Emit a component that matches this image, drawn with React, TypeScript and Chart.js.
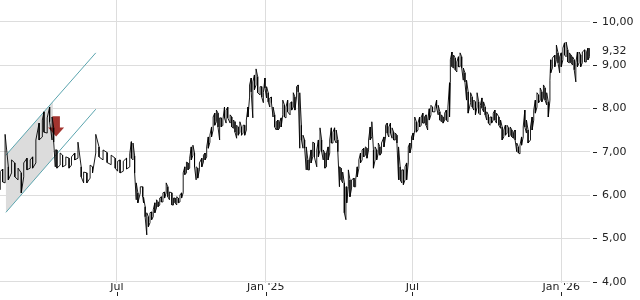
import React, { useEffect, useRef } from 'react';
import { Chart, registerables } from 'chart.js';

Chart.register(...registerables);

// Days counted from 7 Feb 2024
const sampleDay = [
  1, 4, 7, 11, 15, 19, 23, 27, 30, 34,
  38, 41, 45, 49, 53, 55, 59, 62, 65, 67,
  69, 71, 75, 78, 82, 86, 89, 93, 97, 101,
  104, 108, 112, 115, 119, 123, 128, 133, 138, 143,
  146, 149, 153, 157, 161, 163, 165, 167, 169, 171,
  174, 177, 178, 180, 182, 184, 186, 188, 190, 192,
  194, 196, 198, 200, 202, 204, 206, 208, 210, 213,
  215, 217, 219, 221, 223, 225, 227, 229, 231, 233,
  235, 237, 239, 241, 243, 245, 247, 250, 252, 254,
  256, 258, 260, 262, 264, 266, 268, 270, 272, 274,
  276, 278, 280, 282, 285, 287, 289, 291, 293, 295,
  297, 299, 301, 303, 305, 307, 309, 311, 313, 315,
  317, 319, 322, 324, 326, 328, 330, 332, 334, 336,
  338, 340, 342, 344, 346, 348, 350, 352, 354, 356,
  359, 361, 363, 365, 367, 369, 371, 373, 375, 377,
  379, 381, 383, 385, 387, 389, 392, 394, 396, 398,
  400, 402, 404, 406, 408, 410, 412, 414, 416, 418,
  420, 422, 424, 426, 428, 429, 431, 433, 435, 438,
  440, 442, 444, 446, 448, 450, 452, 454, 456, 458,
  460, 462, 464, 466, 468, 470, 472, 475, 477, 479,
  481, 483, 485, 487, 489, 491, 493, 495, 497, 499,
  501, 503, 505, 507, 509, 511, 513, 515, 517, 519,
  521, 523, 525, 527, 529, 531, 533, 535, 538, 540,
  542, 544, 546, 548, 550, 552, 554, 556, 557, 559,
  561, 563, 565, 567, 569, 571, 573, 575, 577, 579,
  582, 584, 586, 588, 590, 592, 594, 596, 598, 600,
  602, 604, 606, 608, 610, 612, 614, 617, 619, 621,
  623, 625, 627, 629, 631, 633, 635, 637, 639, 641,
  643, 645, 647, 649, 651, 653, 656, 658, 660, 662,
  664, 666, 668, 670, 672, 674, 676, 678, 680, 681,
  683, 686, 688, 690, 692, 694, 696, 698, 700, 702,
  704, 706, 708, 710, 712, 714, 716, 718, 720, 723,
  725, 727, 729,
];

const lowValues = [
  6.12, 6.30, 6.28, 6.35, 6.51, 6.42, 6.35, 6.05, 6.42, 6.58,
  6.62, 6.62, 6.74, 7.27, 7.34, 7.45, 7.43, 7.69, 7.27, 7.22,
  6.65, 6.62, 6.69, 6.65, 6.69, 6.62, 6.69, 6.81, 6.85, 6.42,
  6.28, 6.28, 6.39, 6.51, 6.97, 6.88, 6.81, 6.75, 6.70, 6.62,
  6.55, 6.51, 6.55, 6.60, 6.65, 6.85, 6.81, 6.51, 5.89, 5.82,
  6.05, 5.96, 5.82, 5.50, 5.08, 5.27, 5.36, 5.43, 5.50, 5.59,
  5.70, 5.73, 5.77, 5.84, 5.84, 5.93, 6.05, 5.96, 5.89, 5.77,
  5.77, 5.82, 5.77, 5.82, 5.84, 5.93, 6.05, 6.47, 6.51, 6.58,
  6.62, 6.81, 6.92, 6.65, 6.35, 6.39, 6.58, 6.65, 6.76, 6.81,
  6.88, 7.08, 7.22, 7.34, 7.50, 7.61, 7.69, 7.57, 7.27, 7.57,
  7.61, 7.78, 7.66, 7.78, 7.66, 7.57, 7.54, 7.45, 7.31, 7.38,
  7.45, 7.38, 7.43, 7.38, 7.50, 7.80, 8.26, 8.38, 7.78, 8.43,
  8.54, 8.36, 8.31, 8.26, 8.13, 8.47, 8.24, 8.15, 8.03, 8.13,
  7.80, 7.57, 7.50, 7.50, 7.54, 7.57, 7.85, 7.80, 7.78, 7.92,
  7.85, 7.96, 8.03, 7.96, 8.26, 8.38, 7.08, 7.27, 7.08, 7.08,
  6.58, 6.58, 6.58, 6.74, 6.88, 6.88, 6.65, 6.88, 7.04, 7.00,
  6.81, 6.62, 6.65, 6.81, 6.97, 7.20, 7.20, 7.27, 7.20, 7.00,
  6.19, 6.35, 6.28, 5.59, 5.43, 5.82, 6.19, 5.96, 6.16, 6.19,
  6.19, 6.42, 6.62, 6.74, 6.81, 6.88, 6.92, 6.85, 7.04, 7.27,
  7.34, 6.62, 6.81, 6.81, 6.97, 6.92, 6.97, 7.11, 7.34, 7.43,
  7.34, 7.43, 7.31, 7.27, 7.27, 7.20, 6.35, 6.35, 6.28, 6.24,
  6.35, 6.35, 6.74, 6.97, 7.11, 7.27, 7.50, 7.45, 7.50, 7.57,
  7.61, 7.66, 7.66, 7.61, 7.50, 7.73, 7.85, 7.92, 7.92, 8.01,
  7.85, 7.73, 7.69, 7.66, 7.73, 7.73, 7.69, 7.80, 8.59, 8.96,
  8.93, 8.89, 8.84, 8.96, 8.96, 8.93, 8.65, 8.61, 8.19, 7.89,
  8.13, 8.03, 7.96, 7.85, 8.03, 7.89, 7.85, 8.01, 7.92, 7.85,
  7.73, 7.66, 7.61, 7.66, 7.73, 7.73, 7.66, 7.61, 7.54, 7.27,
  7.34, 7.38, 7.43, 7.34, 7.38, 7.34, 7.31, 7.27, 7.00, 6.97,
  6.95, 7.15, 7.34, 7.57, 7.43, 7.20, 7.27, 7.50, 7.73, 7.89,
  8.03, 8.13, 8.19, 8.15, 8.24, 8.19, 8.08, 7.80, 8.19, 8.82,
  8.93, 8.96, 9.12, 9.05, 8.82, 8.96, 9.12, 9.23, 9.19, 9.07,
  9.05, 9.05, 9.00, 8.89, 8.61, 8.96, 9.05, 8.96, 9.05, 9.07,
  9.07, 9.12, 9.19,
];

const highValues = [
  6.54, 6.60, 7.40, 6.65, 6.81, 6.74, 6.62, 6.51, 6.74, 6.85,
  6.81, 6.88, 7.27, 7.66, 7.73, 7.92, 7.78, 8.03, 7.80, 7.55,
  7.04, 7.04, 6.97, 6.92, 6.88, 6.85, 6.88, 6.97, 7.22, 6.65,
  6.53, 6.51, 6.69, 6.65, 7.40, 7.11, 7.04, 6.98, 6.92, 6.85,
  6.78, 6.81, 6.78, 6.85, 6.95, 7.23, 7.20, 6.90, 6.28, 6.05,
  6.19, 6.19, 5.95, 5.73, 5.59, 5.50, 5.59, 5.61, 5.66, 5.82,
  5.89, 5.84, 5.93, 5.96, 6.05, 6.07, 6.28, 6.19, 6.07, 6.05,
  5.93, 5.93, 5.96, 5.93, 6.00, 6.05, 6.51, 6.65, 6.76, 6.74,
  6.85, 7.11, 7.15, 6.97, 6.65, 6.62, 6.74, 6.85, 6.92, 6.97,
  7.11, 7.34, 7.38, 7.57, 7.80, 7.89, 7.96, 7.89, 7.78, 7.78,
  7.73, 8.03, 7.96, 8.03, 7.85, 7.80, 7.73, 7.69, 7.61, 7.57,
  7.69, 7.57, 7.61, 7.61, 7.73, 8.03, 8.54, 8.70, 8.61, 8.77,
  8.91, 8.73, 8.50, 8.50, 8.36, 8.70, 8.50, 8.36, 8.24, 8.26,
  8.03, 7.85, 7.69, 7.73, 7.69, 7.78, 8.19, 8.08, 8.03, 8.19,
  8.12, 8.15, 8.36, 8.26, 8.50, 8.54, 8.36, 7.61, 7.38, 7.27,
  7.11, 6.81, 6.81, 7.04, 7.22, 7.20, 7.04, 7.27, 7.55, 7.27,
  7.04, 6.97, 6.97, 7.11, 7.27, 7.55, 7.45, 7.55, 7.50, 7.27,
  6.65, 6.62, 6.53, 6.28, 6.19, 6.19, 6.58, 6.35, 6.35, 6.39,
  6.35, 6.65, 6.81, 6.97, 7.04, 7.08, 7.11, 7.08, 7.27, 7.57,
  7.69, 7.04, 7.11, 7.04, 7.20, 7.11, 7.20, 7.34, 7.61, 7.66,
  7.57, 7.66, 7.55, 7.45, 7.43, 7.38, 7.11, 6.65, 6.58, 6.58,
  6.65, 6.74, 7.11, 7.20, 7.34, 7.43, 7.80, 7.69, 7.66, 7.80,
  7.80, 7.89, 7.80, 7.85, 7.73, 7.99, 8.07, 8.03, 8.03, 8.19,
  8.07, 7.92, 7.85, 7.80, 7.89, 7.96, 8.03, 8.59, 9.12, 9.30,
  9.23, 9.16, 9.07, 9.19, 9.28, 9.19, 8.93, 8.82, 8.65, 8.38,
  8.36, 8.26, 8.19, 8.15, 8.36, 8.15, 8.07, 8.24, 8.15, 8.03,
  7.92, 7.85, 7.80, 7.80, 7.89, 7.96, 7.89, 7.80, 7.73, 7.57,
  7.50, 7.61, 7.61, 7.55, 7.57, 7.50, 7.45, 7.50, 7.20, 7.11,
  7.15, 7.34, 7.57, 7.96, 7.73, 7.50, 7.57, 7.80, 7.96, 8.19,
  8.36, 8.31, 8.47, 8.38, 8.54, 8.47, 8.36, 8.15, 8.65, 9.12,
  9.16, 9.23, 9.46, 9.28, 9.19, 9.28, 9.39, 9.51, 9.53, 9.35,
  9.28, 9.23, 9.19, 9.12, 9.05, 9.30, 9.30, 9.23, 9.30, 9.35,
  9.28, 9.39, 9.39,
];

const lastClose = 9.32;

const xTickDays = [145, 329, 510, 694];
const xTickLabels = ['Jul', "Jan '25", 'Jul', "Jan '26"];
const yTickValues = [4, 5, 6, 7, 8, 9, 10];

// Trend channel (day, value) end points
const channelDays = [8, 119];
const channelUpper = [6.92, 9.28];
const channelLower = [5.6, 7.98];
const shadeDays = [8, 66];

// Sell arrow
const arrowDay = 70;
const arrowTop = 7.82;
const arrowTip = 7.35;

const FONT = { family: 'DejaVu Sans', size: 11 };
const TEXT = '#222222';
const fmt = (v: number) => v.toFixed(2).replace('.', ',');

const lineAt = (arr: number[], d: number) =>
  arr[0] + ((arr[1] - arr[0]) * (d - channelDays[0])) / (channelDays[1] - channelDays[0]);

const overlayPlugin = {
  id: 'overlay',
  beforeDatasetsDraw(chart: any) {
    const { ctx, chartArea, scales } = chart;
    const x = scales.x;
    const y = scales.y;
    ctx.save();
    ctx.beginPath();
    ctx.rect(chartArea.left, chartArea.top, chartArea.right - chartArea.left, chartArea.bottom - chartArea.top);
    ctx.clip();

    // shaded channel part
    ctx.beginPath();
    ctx.moveTo(x.getPixelForValue(shadeDays[0]), y.getPixelForValue(lineAt(channelUpper, shadeDays[0])));
    ctx.lineTo(x.getPixelForValue(shadeDays[1]), y.getPixelForValue(lineAt(channelUpper, shadeDays[1])));
    ctx.lineTo(x.getPixelForValue(shadeDays[1]), y.getPixelForValue(lineAt(channelLower, shadeDays[1])));
    ctx.lineTo(x.getPixelForValue(shadeDays[0]), y.getPixelForValue(lineAt(channelLower, shadeDays[0])));
    ctx.closePath();
    ctx.fillStyle = '#dcdcdc';
    ctx.fill();

    // arrow
    const ax = x.getPixelForValue(arrowDay);
    const top = y.getPixelForValue(arrowTop);
    const tip = y.getPixelForValue(arrowTip);
    const headLen = 9;
    const sh = 3.8;
    const hh = 8;
    ctx.beginPath();
    ctx.moveTo(ax - sh, top);
    ctx.lineTo(ax + sh, top);
    ctx.lineTo(ax + sh, tip - headLen);
    ctx.lineTo(ax + hh, tip - headLen);
    ctx.lineTo(ax, tip);
    ctx.lineTo(ax - hh, tip - headLen);
    ctx.lineTo(ax - sh, tip - headLen);
    ctx.closePath();
    ctx.fillStyle = '#a3342f';
    ctx.fill();

    // channel lines
    ctx.strokeStyle = '#5aa4ae';
    ctx.lineWidth = 1;
    [channelUpper, channelLower].forEach((arr) => {
      ctx.beginPath();
      ctx.moveTo(x.getPixelForValue(channelDays[0]), y.getPixelForValue(arr[0]));
      ctx.lineTo(x.getPixelForValue(channelDays[1]), y.getPixelForValue(arr[1]));
      ctx.stroke();
    });
    ctx.restore();
  },
  afterDraw(chart: any) {
    const { ctx, chartArea, scales } = chart;
    const x = scales.x;
    const y = scales.y;
    ctx.save();
    ctx.strokeStyle = '#222222';
    ctx.lineWidth = 1;
    yTickValues.forEach((v) => {
      const py = Math.round(y.getPixelForValue(v)) + 0.5;
      ctx.beginPath();
      ctx.moveTo(chartArea.right + 3, py);
      ctx.lineTo(chartArea.right + 7, py);
      ctx.stroke();
    });
    xTickDays.forEach((d) => {
      const px = Math.round(x.getPixelForValue(d)) + 0.5;
      ctx.beginPath();
      ctx.moveTo(px, 292);
      ctx.lineTo(px, 296);
      ctx.stroke();
    });
    ctx.fillStyle = TEXT;
    ctx.font = `${FONT.size}px "${FONT.family}"`;
    ctx.textAlign = 'left';
    ctx.textBaseline = 'middle';
    ctx.fillText(fmt(lastClose), chartArea.right + 12, y.getPixelForValue(lastClose));
    ctx.restore();
  },
};

export default function App() {
  const ref = useRef<HTMLCanvasElement>(null);
  useEffect(() => {
    if (!ref.current) return;
    const points: { x: number; y: number }[] = [];
    sampleDay.forEach((d, i) => {
      if (i % 2 === 0) {
        points.push({ x: d, y: lowValues[i] }, { x: d, y: highValues[i] });
      } else {
        points.push({ x: d, y: highValues[i] }, { x: d, y: lowValues[i] });
      }
    });
    const zeroPad = (s: any) => {
      s.paddingLeft = 0;
      s.paddingRight = 0;
      s.paddingTop = 0;
      s.paddingBottom = 0;
    };
    const chart = new Chart(ref.current, {
      type: 'line',
      data: {
        datasets: [
          {
            data: points,
            borderColor: '#000000',
            borderWidth: 0.9,
            pointRadius: 0,
            tension: 0,
          },
        ],
      },
      options: {
        animation: false,
        responsive: false,
        layout: { padding: 0 },
        plugins: { legend: { display: false }, tooltip: { enabled: false } },
        scales: {
          x: {
            type: 'linear',
            min: 0.7,
            max: 729.5,
            grid: { color: '#dddddd', drawTicks: false },
            border: { display: false },
            ticks: {
              autoSkip: false,
              maxRotation: 0,
              padding: -2,
              color: TEXT,
              font: FONT,
              callback: (v: any) => {
                const i = xTickDays.indexOf(v);
                return i >= 0 ? xTickLabels[i] : '';
              },
            },
            afterBuildTicks: (s: any) => {
              s.ticks = xTickDays.map((v) => ({ value: v }));
            },
            afterFit: (s: any) => {
              s.height = 17;
              zeroPad(s);
            },
          },
          y: {
            position: 'right',
            min: 3.97,
            max: 10.5,
            grid: { color: '#dddddd', drawTicks: false },
            border: { display: false },
            ticks: {
              padding: 12,
              color: TEXT,
              font: FONT,
              callback: (v: any) => fmt(Number(v)),
            },
            afterBuildTicks: (s: any) => {
              s.ticks = yTickValues.map((v) => ({ value: v }));
            },
            afterFit: (s: any) => {
              s.width = 50;
              zeroPad(s);
            },
          },
        },
      },
      plugins: [overlayPlugin],
    } as any);
    return () => chart.destroy();
  }, []);
  return (
    <div style={{ position: 'absolute', left: 0, top: 0, width: 640, height: 300, background: '#fff' }}>
      <canvas ref={ref} width={640} height={300} style={{ display: 'block' }} />
    </div>
  );
}
